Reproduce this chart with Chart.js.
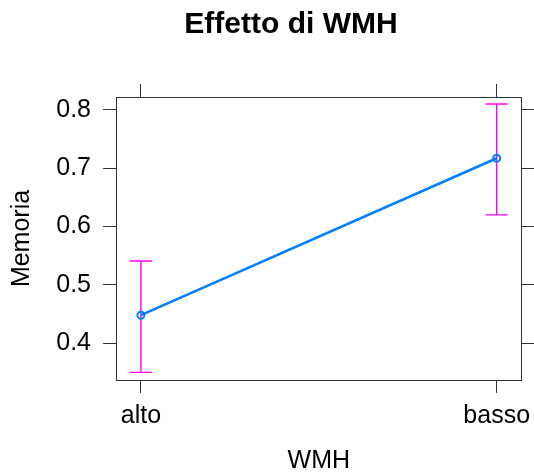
<!DOCTYPE html>
<html>
<head>
<meta charset="utf-8">
<script src="https://cdn.jsdelivr.net/npm/chart.js@4/dist/chart.umd.min.js"></script>
<style>
  body { margin: 0; background: #fff; }
  canvas { display: block; }
</style>
</head>
<body>
<canvas id="effectChart" width="534" height="476"></canvas>
<script>
// data
const categories = ['alto', 'basso'];
const fitValues = [0.448, 0.717];
const lowerCI = [0.350, 0.620];
const upperCI = [0.541, 0.810];
const yTicks = [0.4, 0.5, 0.6, 0.7, 0.8];

const FONT = "'Liberation Sans', Arial, sans-serif";
const yMin = 0.337, yMax = 0.822;
const xMin = 0.93, xMax = 2.07;

const catTicks = scale => { scale.ticks = categories.map((c, i) => ({ value: i + 1 })); };
const valTicks = scale => { scale.ticks = yTicks.map(v => ({ value: v })); };

// fixed axis sizes, no label overflow padding
const fixSize = (w, h) => s => {
  if (w !== null) s.width = w;
  if (h !== null) s.height = h;
  s.paddingLeft = s.paddingRight = s.paddingTop = s.paddingBottom = 0;
};

const axisGrid = { drawOnChartArea: false, tickLength: 13, color: '#333', lineWidth: 1 };
const axisBorder = { display: true, color: '#333', width: 1 };

// one dataset per error bar, caps drawn as 'line' points
const errorSets = categories.map((c, i) => ({
  data: [{ x: i + 1, y: lowerCI[i] }, { x: i + 1, y: upperCI[i] }],
  borderColor: '#ff00ff',
  borderWidth: 1.4,
  pointStyle: 'line',
  pointRadius: 11,
  pointBorderWidth: 1.4,
  pointBorderColor: '#ff00ff',
  order: 2
}));

const shiftTitle = {
  id: 'shiftTitle',
  afterLayout(chart) {
    if (chart.titleBlock) chart.titleBlock.left += 48;
  }
};

const ctx = document.getElementById('effectChart').getContext('2d');
const effectChart = new Chart(ctx, {
  type: 'line',
  data: {
    datasets: [{
      data: fitValues.map((v, i) => ({ x: i + 1, y: v })),
      borderColor: '#0080ff',
      borderWidth: 2.5,
      pointRadius: 3.5,
      pointBorderWidth: 2,
      pointBorderColor: '#0080ff',
      pointBackgroundColor: 'rgba(255,255,255,0)',
      order: 1
    }, ...errorSets]
  },
  options: {
    responsive: false,
    animation: false,
    layout: { padding: 0 },
    plugins: {
      legend: { display: false },
      tooltip: { enabled: false },
      title: {
        display: true,
        text: 'Effetto di WMH',
        color: '#000',
        font: { family: FONT, size: 30, weight: 'bold', lineHeight: 1.2 },
        padding: { top: 7, bottom: 41 }
      }
    },
    scales: {
      x: {
        type: 'linear', position: 'bottom', min: xMin, max: xMax,
        afterBuildTicks: catTicks,
        afterFit: fixSize(null, 96),
        grid: axisGrid, border: axisBorder,
        ticks: { color: '#000', padding: 8, maxRotation: 0, font: { family: FONT, size: 25 },
                 callback: v => categories[v - 1] },
        title: { display: true, text: 'WMH', color: '#000', padding: { top: 0, bottom: 0 },
                 font: { family: FONT, size: 25, lineHeight: 1.2 } }
      },
      x2: {
        type: 'linear', position: 'top', min: xMin, max: xMax,
        afterBuildTicks: catTicks,
        afterFit: fixSize(null, 13),
        grid: axisGrid, border: axisBorder,
        ticks: { display: false }
      },
      y: {
        type: 'linear', position: 'left', min: yMin, max: yMax,
        afterBuildTicks: valTicks,
        afterFit: fixSize(116, null),
        grid: axisGrid, border: axisBorder,
        ticks: { color: '#000', padding: 12, font: { family: FONT, size: 25 },
                 callback: v => v.toFixed(1) },
        title: { display: true, text: 'Memoria', color: '#000', padding: { top: 7, bottom: 0 },
                 font: { family: FONT, size: 25, lineHeight: 1.2 } }
      },
      y2: {
        type: 'linear', position: 'right', min: yMin, max: yMax,
        afterBuildTicks: valTicks,
        afterFit: fixSize(11, null),
        grid: axisGrid, border: axisBorder,
        ticks: { display: false }
      }
    }
  },
  plugins: [shiftTitle]
});
</script>
</body>
</html>
